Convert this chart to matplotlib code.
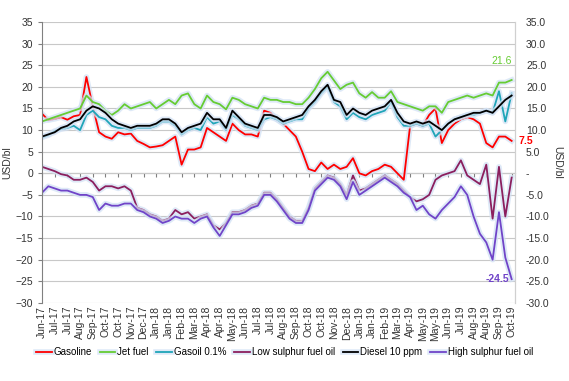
import numpy as np
import matplotlib
matplotlib.use("Agg")
import matplotlib.pyplot as plt
import matplotlib.patheffects as pe
from matplotlib.ticker import FuncFormatter

plt.rcParams['font.family'] = ['Liberation Sans', 'DejaVu Sans']

# month labels shown on the category axis
tick_labels = ["Jun-17", "Jul-17", "Jul-17", "Aug-17", "Sep-17", "Oct-17", "Oct-17", "Nov-17",
               "Dec-17", "Jan-18", "Jan-18", "Feb-18", "Mar-18", "Apr-18", "Apr-18", "May-18",
               "Jun-18", "Jul-18", "Jul-18", "Aug-18", "Sep-18", "Oct-18", "Oct-18", "Nov-18",
               "Dec-18", "Jan-19", "Jan-19", "Feb-19", "Mar-19", "Apr-19", "May-19", "May-19",
               "Jun-19", "Jul-19", "Aug-19", "Aug-19", "Sep-19", "Oct-19"]

# cracks in USD/bl, two readings per label interval
gasoline = [13.8, 12.3, 12.6, 13.0, 12.4, 13.2, 13.5, 22.3, 15.5, 9.5, 8.5, 8.0, 9.5, 9.0, 9.2,
            7.5, 6.8, 6.0, 6.2, 6.5, 7.5, 8.5, 2.0, 5.5, 5.5,
            6.0, 10.5, 9.5, 8.5, 7.5, 11.5, 10.0, 9.0, 9.0, 8.5, 14.5, 14.0, 12.5, 11.5, 10.0,
            8.5, 5.0, 1.0, 0.5, 2.5, 1.0, 2.0, 1.0, 1.5, 3.5,
            0.0, -0.5, 0.5, 1.0, 2.0, 1.5, 0.0, -1.5, 11.0, 11.5, 11.0, 13.5, 15.0, 7.0, 10.0,
            11.5, 12.5, 13.0, 12.5, 11.5, 7.0, 6.0, 8.5, 8.5, 7.5]
jet_fuel = [12.0, 12.5, 13.0, 13.5, 14.0, 14.5, 15.0, 18.0, 16.5, 16.0, 14.5, 13.5, 14.5, 16.0, 15.0,
            15.5, 16.0, 16.5, 15.0, 16.0, 17.0, 16.0, 18.0, 18.5, 16.0,
            15.0, 18.0, 16.5, 16.0, 14.8, 17.5, 17.0, 16.0, 15.5, 15.0, 17.5, 17.0, 17.0, 16.5, 16.5,
            16.0, 16.0, 17.5, 19.5, 22.0, 23.5, 21.5, 19.5, 20.5, 21.0,
            18.5, 17.5, 18.8, 17.5, 17.5, 19.0, 16.5, 16.0, 15.5, 15.0, 14.5, 15.5, 15.5, 14.0, 16.5,
            17.0, 17.5, 18.0, 17.5, 18.0, 18.5, 18.0, 21.0, 21.0, 21.6]
gasoil = [8.3, 8.8, 9.8, 10.2, 10.5, 11.0, 10.0, 13.5, 14.5, 13.0, 12.5, 11.0, 10.5, 10.5, 10.0,
          10.5, 10.5, 10.5, 11.0, 12.0, 12.0, 11.0, 9.0, 10.0, 10.5,
          10.0, 13.0, 11.5, 12.0, 10.0, 13.5, 12.5, 11.0, 10.5, 10.0, 12.5, 13.0, 12.5, 11.5, 12.0,
          12.5, 12.5, 15.0, 16.5, 18.5, 20.0, 16.5, 15.5, 12.5, 14.0,
          13.0, 12.5, 13.5, 14.0, 14.5, 16.5, 13.0, 11.0, 11.0, 11.5, 11.0, 11.5, 8.5, 10.0, 11.5,
          12.5, 13.0, 13.5, 13.5, 14.0, 14.5, 14.0, 19.0, 12.0, 18.5]
lsfo = [1.5, 1.0, 0.5, -0.2, -0.5, -1.5, -1.5, -1.0, -2.0, -4.0, -3.0, -3.0, -3.5, -3.0, -4.0,
        -8.0, -8.5, -9.5, -10.0, -11.0, -10.5, -8.5, -9.5, -9.0, -10.5,
        -10.0, -9.5, -12.0, -13.0, -11.5, -9.0, -9.0, -8.5, -7.5, -7.0, -4.5, -4.5, -6.0, -8.0, -10.0,
        -11.0, -11.0, -8.0, -3.5, -2.0, -0.5, -1.0, -2.5, -5.0, -0.5,
        -4.0, -3.5, -2.5, -1.5, -0.5, -1.5, -2.5, -4.0, -5.5, -6.5, -6.0, -5.0, -1.5, -0.5, 0.0,
        0.5, 3.0, -0.5, -1.5, -2.5, 2.0, -10.5, 1.5, -10.0, -1.0]
diesel = [8.5, 9.0, 9.5, 10.5, 11.0, 12.0, 12.5, 14.5, 15.5, 15.0, 14.0, 12.5, 11.5, 11.0, 10.5,
          11.0, 11.0, 11.0, 11.5, 12.5, 12.5, 11.5, 9.5, 10.5, 11.0,
          11.5, 14.0, 12.5, 12.5, 10.5, 14.5, 13.0, 11.5, 11.0, 10.5, 13.5, 13.5, 13.0, 12.0, 12.5,
          13.0, 13.5, 15.5, 17.0, 19.0, 20.5, 17.0, 16.5, 13.5, 15.0,
          14.0, 13.5, 14.5, 15.0, 15.5, 17.0, 14.0, 12.0, 11.5, 12.0, 11.5, 12.0, 11.0, 10.0, 11.5,
          12.5, 13.0, 13.5, 14.0, 14.0, 14.5, 14.0, 15.5, 17.0, 18.0]
hsfo = [-4.5, -3.0, -3.5, -4.0, -4.0, -4.5, -5.0, -5.0, -5.5, -8.5, -7.0, -7.5, -7.5, -7.0, -7.0,
        -8.5, -9.0, -10.0, -10.5, -11.5, -11.0, -10.0, -10.5, -10.5, -11.5,
        -10.5, -10.0, -12.5, -14.5, -12.0, -9.5, -9.5, -9.0, -8.0, -7.5, -5.0, -5.0, -6.5, -8.5, -10.5,
        -11.5, -11.5, -8.5, -4.0, -2.5, -1.0, -1.5, -3.0, -6.0, -2.0,
        -5.0, -4.0, -3.0, -2.0, -1.0, -2.0, -3.0, -4.5, -5.5, -8.5, -7.5, -9.5, -10.5, -8.5, -7.0,
        -5.5, -3.0, -5.0, -10.0, -14.0, -16.0, -20.0, -9.0, -19.5, -24.5]

series = [
    ("Gasoline", gasoline, "#ff0000"),
    ("Jet fuel", jet_fuel, "#66cc33"),
    ("Gasoil 0.1%", gasoil, "#1fa5b8"),
    ("Low sulphur fuel oil", lsfo, "#8b1f5e"),
    ("Diesel 10 ppm", diesel, "#000000"),
    ("High sulphur fuel oil", hsfo, "#7044c8"),
]

x = np.arange(len(gasoline)) / 2.0
ymin, ymax = -30, 35

fig = plt.figure(figsize=(5.69, 3.81), dpi=100)
ax = fig.add_axes([0.0738, 0.205, 0.831, 0.737])

glow = [pe.Stroke(linewidth=4.0, foreground="#d3e2f5", alpha=0.75), pe.Normal()]
for name, vals, col in series:
    ax.plot(x, vals, color=col, lw=1.3, label=name, path_effects=glow)

ax.set_ylim(ymin, ymax)
ax.set_xlim(0, 37.25)
ax.set_yticks(np.arange(ymin, ymax + 1, 5))
ax.yaxis.grid(True, color="#c8c8c8", lw=0.8)
ax.set_axisbelow(True)
for s in ["top", "bottom"]:
    ax.spines[s].set_visible(False)
ax.spines["left"].set_color("#808080")
ax.spines["right"].set_color("#d0d0d0")
ax.tick_params(axis="y", labelsize=7.5, length=3, color="#808080", labelcolor="#333333")
ax.set_ylabel("USD/bl", fontsize=7.5, color="#333333", labelpad=2)

ax.set_xticks(np.arange(len(tick_labels)))
ax.set_xticklabels(tick_labels, rotation=90, fontsize=7.5, color="#333333")
ax.tick_params(axis="x", length=0, pad=2)

# category axis line with tick marks at zero
zero_pos = (0 - ymin) / (ymax - ymin)
sec = ax.secondary_xaxis(zero_pos)
sec.set_xticks(np.arange(len(tick_labels)))
sec.set_xticklabels([])
sec.tick_params(length=3, color="#808080")
sec.spines["bottom"].set_color("#808080")

ax2 = ax.twinx()
ax2.set_ylim(ymin, ymax)
ax2.set_yticks(np.arange(ymin, ymax + 1, 5))
ax2.yaxis.set_major_formatter(FuncFormatter(lambda v, p: "-" if v == 0 else f"{v:.1f}"))
ax2.tick_params(axis="y", labelsize=7.5, length=0, labelcolor="#333333", pad=8)
for s in ["top", "bottom", "left"]:
    ax2.spines[s].set_visible(False)
ax2.spines["right"].set_color("#d0d0d0")
ax2.set_ylabel("USD/bl", fontsize=7.5, color="#333333", rotation=-90, labelpad=9)

# end-of-series value labels
ax.annotate(f"{jet_fuel[-1]:.1f}", xy=(x[-1], jet_fuel[-1]), xytext=(0, 14),
            textcoords="offset points", ha="right", va="center", fontsize=7.5,
            color="#66cc33", annotation_clip=False)
ax.annotate(f"{gasoline[-1]:.1f}", xy=(x[-1], gasoline[-1]), xytext=(5, 0),
            textcoords="offset points", ha="left", va="center", fontsize=7.5,
            color="#ff0000", fontweight="bold", annotation_clip=False)
ax.annotate(f"{hsfo[-1]:.1f}", xy=(x[-1], hsfo[-1]), xytext=(-2, 0),
            textcoords="offset points", ha="right", va="center", fontsize=7.5,
            color="#7044c8", fontweight="bold", annotation_clip=False)

fig.legend(loc="center", bbox_to_anchor=(0.5, 0.076), ncol=6, frameon=False,
           fontsize=7, handlelength=1.6, handletextpad=0.2, columnspacing=0.8)

fig.savefig("out.png", dpi=100)
